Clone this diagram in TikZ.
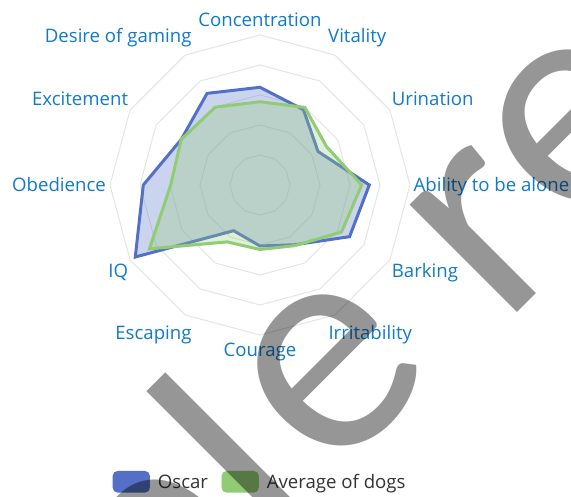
\documentclass[tikz,border=0pt]{standalone}
\usepackage{fontspec}
\setmainfont{Open Sans}
\newfontfamily\wmfont{Lato}
\usetikzlibrary{positioning}
\definecolor{oscar}{HTML}{5470C6}
\definecolor{avgdog}{HTML}{91CC75}
\definecolor{axisname}{HTML}{107AC9}
\definecolor{ringgray}{HTML}{E5E5E5}
\definecolor{legendtext}{HTML}{333333}
\tikzset{
  ring/.style={ringgray, line width=1pt},
  oscarseries/.style={draw=oscar, fill=oscar, fill opacity=0.3, line width=3pt},
  avgseries/.style={draw=avgdog, fill=avgdog, fill opacity=0.3, line width=3pt},
  axislabel/.style={text=axisname, font=\fontsize{18.6}{18.6}\selectfont, inner sep=0pt},
  legicon/.style={minimum width=37.3pt, minimum height=21.7pt, rounded corners=5pt, inner sep=0pt},
  legtext/.style={text=legendtext, font=\fontsize{18.6}{18.6}\selectfont, inner sep=0pt, anchor=base west},
  wmark/.style={text=black, text opacity=0.41, font=\wmfont\fontsize{300}{300}\selectfont, inner sep=0pt}
}
\begin{document}
\begin{tikzpicture}[x=1pt, y=1pt]
		\useasboundingbox (0,0) rectangle (571,497);
		\begin{scope}[shift={(260,312)}]
		\foreach \r in {30,60,90,120,150}
			\draw[ring] (90:\r) -- (120:\r) -- (150:\r) -- (180:\r) -- (210:\r) -- (240:\r) -- (270:\r) -- (300:\r) -- (330:\r) -- (0:\r) -- (30:\r) -- (60:\r) -- cycle;
		\filldraw[oscarseries] (90:97.7) -- (120:105.8) -- (150:91) -- (180:116.7) -- (210:144) -- (240:52.8) -- (270:61) -- (300:69) -- (330:103.4) -- (0:109.3) -- (30:67) -- (60:86.9) -- cycle;
		\filldraw[avgseries] (90:83.3) -- (120:89.8) -- (150:91) -- (180:89.3) -- (210:127.7) -- (240:65.7) -- (270:64.5) -- (300:70) -- (330:94.1) -- (0:101.7) -- (30:76.8) -- (60:89.6) -- cycle;
		\end{scope}
		\node[axislabel, anchor=base] (conc) at (260,470) {Concentration};
		\node[axislabel, anchor=base west] (vita) at (328,454) {Vitality};
		\node[axislabel, anchor=base west] (urin) at (391.7,391) {Urination};
		\node[axislabel, anchor=base west] (alone) at (413.5,305.3) {Ability to be alone};
		\node[axislabel, anchor=base west] (bark) at (391.7,219.5) {Barking};
		\node[axislabel, anchor=base west] (irri) at (328.3,157) {Irritability};
		\node[axislabel, anchor=base] (cour) at (260,140.3) {Courage};
		\node[axislabel, anchor=base east] (esca) at (191.7,157) {Escaping};
		\node[axislabel, anchor=base east] (iq) at (128.3,219.5) {IQ};
		\node[axislabel, anchor=base east] (obed) at (106,305.3) {Obedience};
		\node[axislabel, anchor=base east] (exci) at (128.3,391) {Excitement};
		\node[axislabel, anchor=base east] (desi) at (191.7,454) {Desire of gaming};
		\node[legicon, fill=oscar] (oscicon) at (131.3,15.2) {};
		\node[legtext] (oscname) at (157.7,8.7) {Oscar};
		\node[legicon, fill=avgdog] (avgicon) at (240.2,15.2) {};
		\node[legtext] (avgname) at (266.7,8.7) {Average of dogs};
		\begin{scope}
		\clip (0,0) rectangle (571,497);
		\begin{scope}[shift={(0,497)}, rotate=45, transform shape]
		\node[wmark, anchor=north east] (wmp) at (-196,-434) {p};
		\node[wmark, anchor=north] (wml) at (-160,-381) {l};
		\node[wmark, anchor=center] (wme) at (-29,-498) {e};
		\node[wmark, anchor=north west] (wmr) at (124,-432) {r};
		\node[wmark, anchor=center] (wmee) at (318,-498) {e};
		\end{scope}
		\end{scope}
		\end{tikzpicture}
\end{document}
